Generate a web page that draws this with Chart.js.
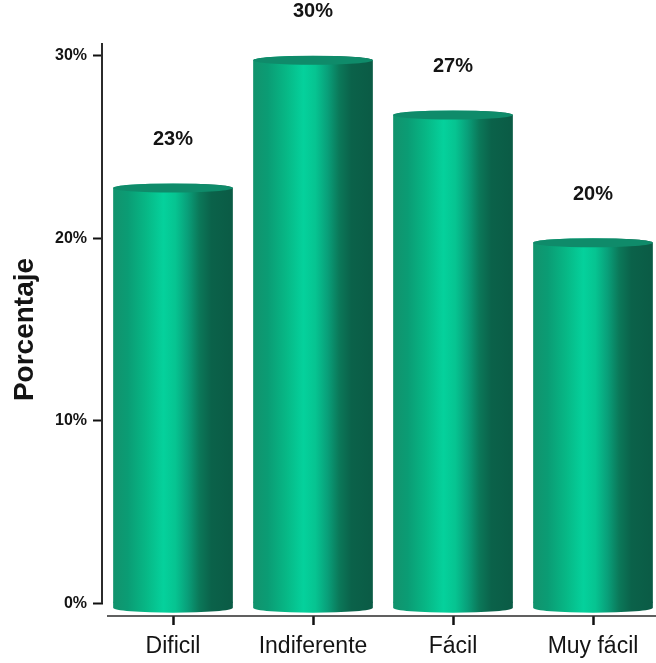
<!DOCTYPE html>
<html>
<head>
<meta charset="utf-8">
<style>
  html, body { margin: 0; padding: 0; background: #ffffff; overflow: hidden; }
  #wrap { width: 656px; height: 663px; position: relative; overflow: hidden; }
  #chart { position: absolute; left: 0; top: 0; }
</style>
<script src="https://cdn.jsdelivr.net/npm/chart.js@4.4.1/dist/chart.umd.min.js"></script>
</head>
<body>
<div id="wrap"><canvas id="chart" width="670" height="663"></canvas></div>
<script>
// Survey answers: share of respondents per difficulty rating
const categories = ['Dificil', 'Indiferente', 'Fácil', 'Muy fácil'];
const percentages = [23, 30, 27, 20];
const yTickValues = [0, 10, 20, 30];
const yAxisTitle = 'Porcentaje';

const FONT = '"Liberation Sans", Arial, Helvetica, sans-serif';
const INK = '#141414';
const AXIS = '#2b2b2b';
const CAP_COLOR = '#0f8b6a';
const CAP_RY = 4.5;     // half height of the top face ellipse
const BOTTOM_RY = 5;    // half height of the bottom rim ellipse
const BAR_SHARE = 0.855;

// Horizontal shading that makes each bar read as a lit cylinder
function bodyGradient(ctx, left, right) {
  const g = ctx.createLinearGradient(left, 0, right, 0);
  g.addColorStop(0.00, '#12936d');
  g.addColorStop(0.12, '#0b9c74');
  g.addColorStop(0.28, '#07b886');
  g.addColorStop(0.42, '#05d19c');
  g.addColorStop(0.52, '#06c491');
  g.addColorStop(0.62, '#09a07a');
  g.addColorStop(0.72, '#0b7859');
  g.addColorStop(0.82, '#0b624a');
  g.addColorStop(1.00, '#0b5b45');
  return g;
}

const cylinderPlugin = {
  id: 'cylinders',
  beforeDatasetsDraw(chart) {
    const { ctx, chartArea, scales } = chart;
    ctx.save();
    ctx.strokeStyle = AXIS;
    ctx.lineWidth = 2;
    // value axis line, from the top of the plot down to zero
    const axisX = chartArea.left - 1;
    ctx.beginPath();
    ctx.moveTo(axisX, chartArea.top);
    ctx.lineTo(axisX, scales.y.getPixelForValue(0));
    ctx.stroke();
    // category axis line, set slightly apart from the value axis
    ctx.lineWidth = 1.5;
    ctx.beginPath();
    ctx.moveTo(chartArea.left + 4, chartArea.bottom);
    ctx.lineTo(chartArea.right, chartArea.bottom);
    ctx.stroke();
    ctx.restore();
  },
  afterDatasetsDraw(chart) {
    const { ctx } = chart;
    const meta = chart.getDatasetMeta(0);
    meta.data.forEach((bar, i) => {
      const { x, y, base, width } = bar.getProps(['x', 'y', 'base', 'width'], true);
      if (![x, y, base, width].every(Number.isFinite)) return;
      const left = x - width / 2;
      const right = x + width / 2;
      const rx = width / 2;

      // trim the square corners above the elliptical top face
      ctx.save();
      ctx.beginPath();
      ctx.rect(left - 1, y - 1, width + 2, CAP_RY + 1);
      ctx.clip();
      ctx.globalCompositeOperation = 'destination-out';
      ctx.beginPath();
      ctx.rect(left - 1, y - 1, width + 2, CAP_RY + 1);
      ctx.ellipse(x, y + CAP_RY, rx, CAP_RY, 0, 0, Math.PI * 2);
      ctx.fill('evenodd');
      ctx.restore();

      // top face
      ctx.save();
      ctx.fillStyle = CAP_COLOR;
      ctx.beginPath();
      ctx.ellipse(x, y + CAP_RY, rx, CAP_RY, 0, 0, Math.PI * 2);
      ctx.fill();

      // rounded bottom rim below the zero line
      ctx.fillStyle = bodyGradient(ctx, left, right);
      ctx.beginPath();
      ctx.moveTo(left, base - 1);
      ctx.lineTo(left, base + BOTTOM_RY);
      ctx.ellipse(x, base + BOTTOM_RY, rx, BOTTOM_RY, 0, Math.PI, 0, true);
      ctx.lineTo(right, base - 1);
      ctx.closePath();
      ctx.fill();

      // value label above the bar
      ctx.fillStyle = INK;
      ctx.font = 'bold 20px ' + FONT;
      ctx.textAlign = 'center';
      ctx.textBaseline = 'middle';
      ctx.fillText(Math.round(percentages[i]) + '%', x, y - 44);
      ctx.restore();
    });
  }
};

new Chart(document.getElementById('chart'), {
  type: 'bar',
  data: {
    labels: categories,
    datasets: [{
      data: percentages,
      backgroundColor: (c) => {
        const chart = c.chart;
        const xs = chart.scales && chart.scales.x;
        if (!xs || c.dataIndex === undefined) return '#0a9f76';
        const cx = xs.getPixelForValue(c.dataIndex);
        const half = (xs.width / categories.length) * BAR_SHARE / 2;
        if (!Number.isFinite(cx) || !Number.isFinite(half)) return '#0a9f76';
        return bodyGradient(chart.ctx, cx - half, cx + half);
      },
      borderWidth: 0,
      barPercentage: BAR_SHARE,
      categoryPercentage: 1
    }]
  },
  options: {
    responsive: false,
    devicePixelRatio: 1,
    animation: false,
    layout: { padding: { top: 43, right: 7, left: 0, bottom: 0 } },
    plugins: {
      legend: { display: false },
      tooltip: { enabled: false }
    },
    scales: {
      x: {
        offset: true,
        border: { display: false },
        grid: {
          display: true,
          offset: false,
          drawOnChartArea: false,
          drawTicks: true,
          tickLength: 9,
          tickWidth: 2.5,
          tickColor: '#111111'
        },
        ticks: {
          font: { family: FONT, size: 23 },
          color: INK,
          padding: 8,
          maxRotation: 0
        },
        afterFit: (s) => { s.height = 47; }
      },
      y: {
        min: -0.7,
        max: 30.7,
        afterBuildTicks: (s) => { s.ticks = yTickValues.map(v => ({ value: v })); },
        border: { display: false },
        grid: {
          drawOnChartArea: false,
          drawTicks: true,
          tickLength: 10,
          tickWidth: 2,
          tickColor: '#111111'
        },
        ticks: {
          callback: (v) => v + '%',
          font: { family: FONT, size: 16, weight: 'bold' },
          color: INK,
          padding: 6
        },
        title: {
          display: true,
          text: yAxisTitle,
          font: { family: FONT, size: 28, weight: 'bold' },
          color: INK,
          padding: { top: 8, bottom: 0 }
        },
        afterFit: (s) => { s.width = 103; }
      }
    }
  },
  plugins: [cylinderPlugin]
});
</script>
</body>
</html>
